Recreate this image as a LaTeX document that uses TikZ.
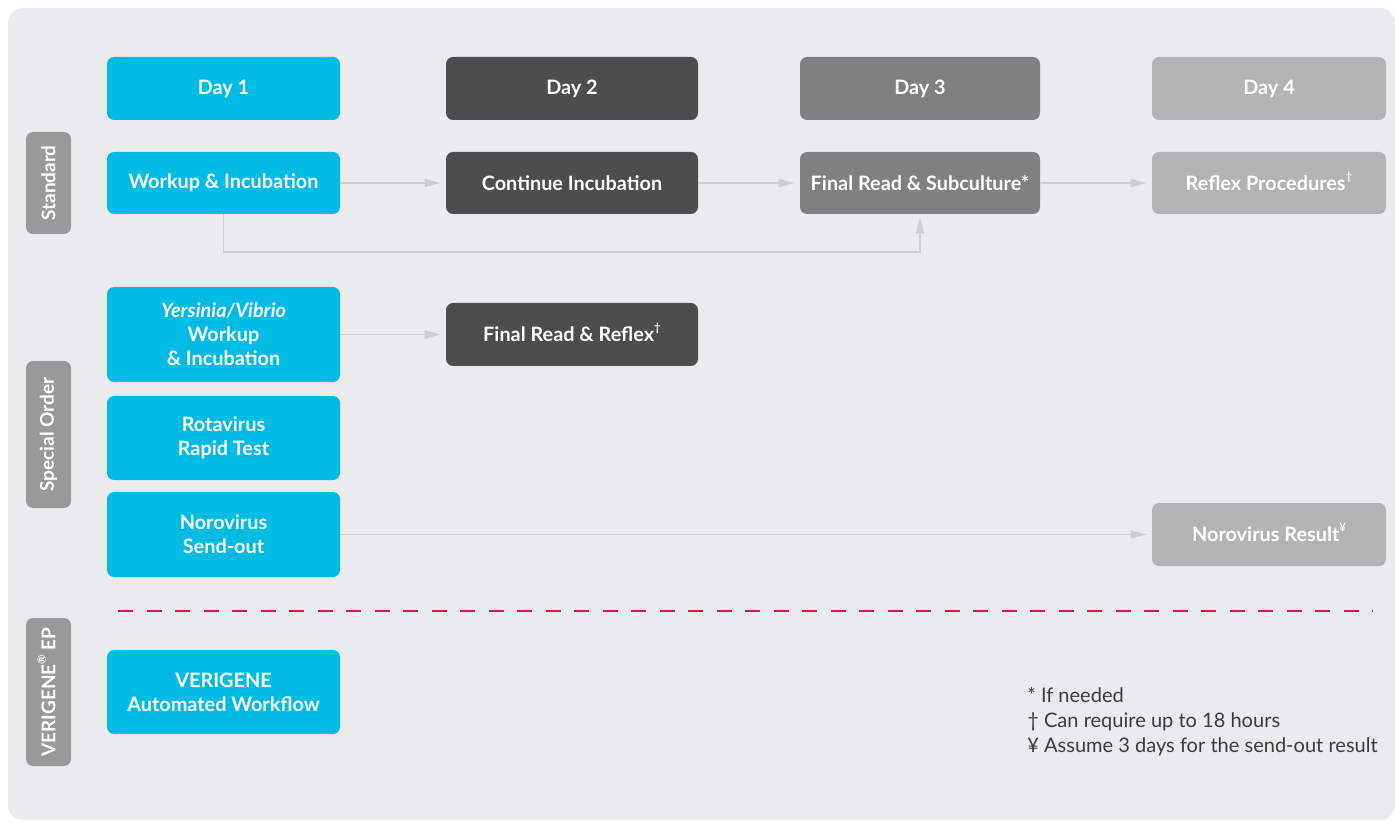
\documentclass[tikz,border=0pt]{standalone}
\usepackage{fontspec}
\setmainfont{Lato}
\usepackage{xcolor}
\usepackage{tikz}
\usetikzlibrary{arrows.meta,positioning}

\definecolor{panel}{RGB}{234,235,237}
\definecolor{dayone}{RGB}{0,188,228}
\definecolor{daytwo}{RGB}{77,77,77}
\definecolor{daythree}{RGB}{128,128,128}
\definecolor{dayfour}{RGB}{179,179,179}
\definecolor{sidegray}{RGB}{153,153,153}
\definecolor{flowgray}{RGB}{206,206,206}
\definecolor{cutred}{RGB}{214,25,74}
\definecolor{notetext}{RGB}{60,60,60}

\newcommand{\supmark}[1]{\smash{\raisebox{0.5em}{\fontsize{6.5}{7}\selectfont #1}}}

\begin{document}
\begin{tikzpicture}[
    box/.style={rounded corners=4pt, minimum height=1.26cm, align=center, text=white, inner sep=2pt,
                font=\fontsize{11.3}{13.7}\selectfont\bfseries},
    one/.style={box, fill=dayone, minimum width=4.66cm},
    two/.style={box, fill=daytwo, minimum width=5.04cm},
    three/.style={box, fill=daythree, minimum width=4.8cm},
    four/.style={box, fill=dayfour, minimum width=4.68cm},
    side/.style={rounded corners=4pt, fill=sidegray, minimum height=0.9cm, rotate=90, text=white,
                 font=\fontsize{10.8}{12}\selectfont\bfseries},
    flow/.style={draw=flowgray, line width=1.1pt, -{Triangle[length=3.2mm, width=1.6mm]}, shorten >=0.1cm}
]
\useasboundingbox (0,0) rectangle (27.9,16.44);
\fill[panel, rounded corners=0.3cm] (0.16,0.04) rectangle (27.9,16.28);

% day headers
\node[one]   (D1) at (4.47,14.67)  {Day 1};
\node[two]   (D2) at (11.44,14.67) {Day 2};
\node[three] (D3) at (18.4,14.67)  {Day 3};
\node[four]  (D4) at (25.38,14.67) {Day 4};

% standard culture
\node[side, minimum width=2.04cm] (S) at (0.97,12.78) {Standard};
\node[one, minimum height=1.24cm]   (W) at (4.47,12.78)  {Workup \& Incubation};
\node[two, minimum height=1.24cm]   (C) at (11.44,12.78) {Continue Incubation};
\node[three, minimum height=1.24cm] (F) at (18.4,12.78)  {Final Read \& Subculture*};
\node[four, minimum height=1.24cm]  (R) at (25.38,12.78) {Reflex Procedures\supmark{†}};

\draw[flow] (W) -- (C);
\draw[flow] (C) -- (F);
\draw[flow] (F) -- (R);
\draw[flow, shorten >=0.06cm] (W.south) -- ++(0,-0.76) -| (F.south);

% special order
\node[side, minimum width=2.94cm] (SO) at (0.97,7.75) {Special Order};
\node[one, minimum height=1.9cm] (Y) at (4.47,9.75) {{\itshape Yersinia/Vibrio}\\Workup\\\& Incubation};
\node[two] (YR) at (11.44,9.75) {Final Read \& Reflex\supmark{†}};
\node[one, minimum height=1.68cm] (RV) at (4.47,7.68) {Rotavirus\\Rapid Test};
\node[one, minimum height=1.7cm]  (NS) at (4.47,5.75) {Norovirus\\Send-out};
\node[four] (NR) at (25.38,5.75) {Norovirus Result\supmark{¥}};

\draw[flow] (Y) -- (YR);
\draw[flow] (NS) -- (NR);

% cut line
\coordinate (cutL) at (2.36,4.22);
\coordinate (cutR) at (27.45,4.22);
\draw[cutred, line width=1.7pt, dash pattern=on 0.3cm off 0.27cm] (cutL) -- (cutR);

% verigene
\node[side, minimum width=2.96cm] (V) at (0.97,2.6) {VERIGENE\supmark{®} EP};
\node[one, minimum height=1.68cm] (VA) at (4.47,2.6) {VERIGENE\\Automated Workflow};

% notes
\node[anchor=north west, align=left, text=notetext, inner sep=0pt,
      font=\fontsize{11.4}{14.2}\selectfont] (notes) at (20.54,2.7)
     {* If needed\\† Can require up to 18 hours\\¥ Assume 3 days for the send-out result};
\end{tikzpicture}
\end{document}
